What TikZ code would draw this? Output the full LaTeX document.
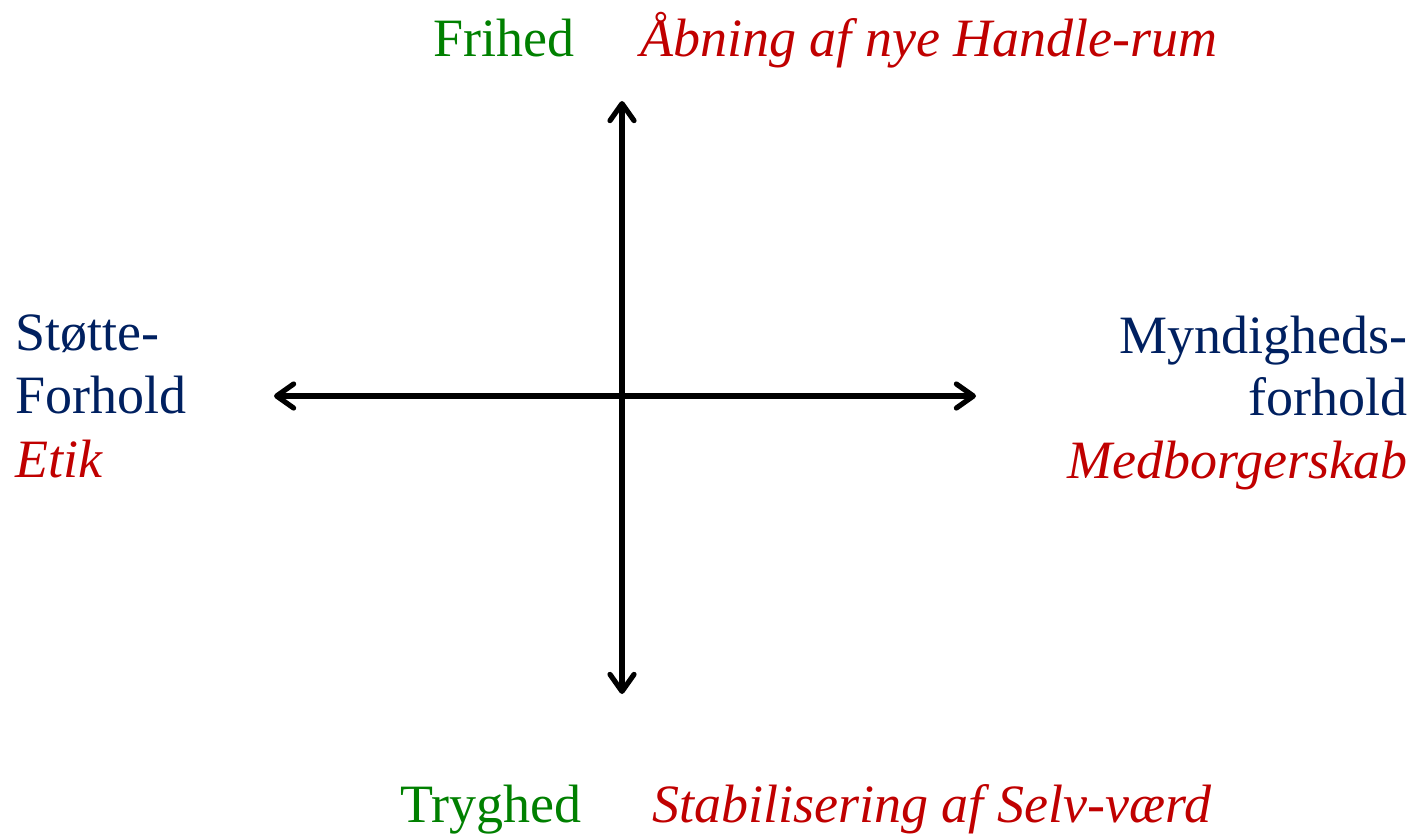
\documentclass[tikz,border=0pt]{standalone}
\usepackage{fontspec}
\setmainfont{Liberation Serif}
\usetikzlibrary{arrows.meta}
\definecolor{navy}{RGB}{0,32,96}
\definecolor{dgreen}{RGB}{0,128,0}
\definecolor{dred}{RGB}{192,0,0}
\tikzset{
  lbl/.style={inner sep=0pt, font=\fontsize{54}{64}\selectfont},
  itl/.style={lbl, font=\fontsize{54}{64}\selectfont\itshape},
  axis/.style={line width=5.2pt, line cap=round,
    {Straight Barb[length=17pt,width=24pt,line cap=round,line join=round]}-{Straight Barb[length=17pt,width=24pt,line cap=round,line join=round]}}
}
\begin{document}
\begin{tikzpicture}[x=1pt,y=-1pt]
\useasboundingbox (0,0) rectangle (1414,836);
\coordinate (top) at (622,101);
\coordinate (bot) at (622,694);
\coordinate (lft) at (274,396);
\coordinate (rgt) at (976,396);
\draw[axis] (bot) -- (top);
\draw[axis] (lft) -- (rgt);
\node[lbl, anchor=base west, text=dgreen] (frihed) at (433,56) {Frihed};
\node[itl, anchor=base west, text=dred] (abning) at (640,56) {Åbning af nye Handle-rum};
\node[lbl, anchor=base west, text=dgreen] (tryghed) at (400,822) {Tryghed};
\node[itl, anchor=base west, text=dred] (stab) at (652,822) {Stabilisering af Selv-værd};
\node[lbl, anchor=base west, text=navy] (stotte) at (15,350) {Støtte-};
\node[lbl, anchor=base west, text=navy] (forhold) at (15,413) {Forhold};
\node[itl, anchor=base west, text=dred] (etik) at (15,477) {Etik};
\node[lbl, anchor=base east, text=navy] (myn) at (1408,353) {Myndigheds-};
\node[lbl, anchor=base east, text=navy] (forh2) at (1408,415) {forhold};
\node[itl, anchor=base east, text=dred] (med) at (1408,478) {Medborgerskab};
\end{tikzpicture}
\end{document}
